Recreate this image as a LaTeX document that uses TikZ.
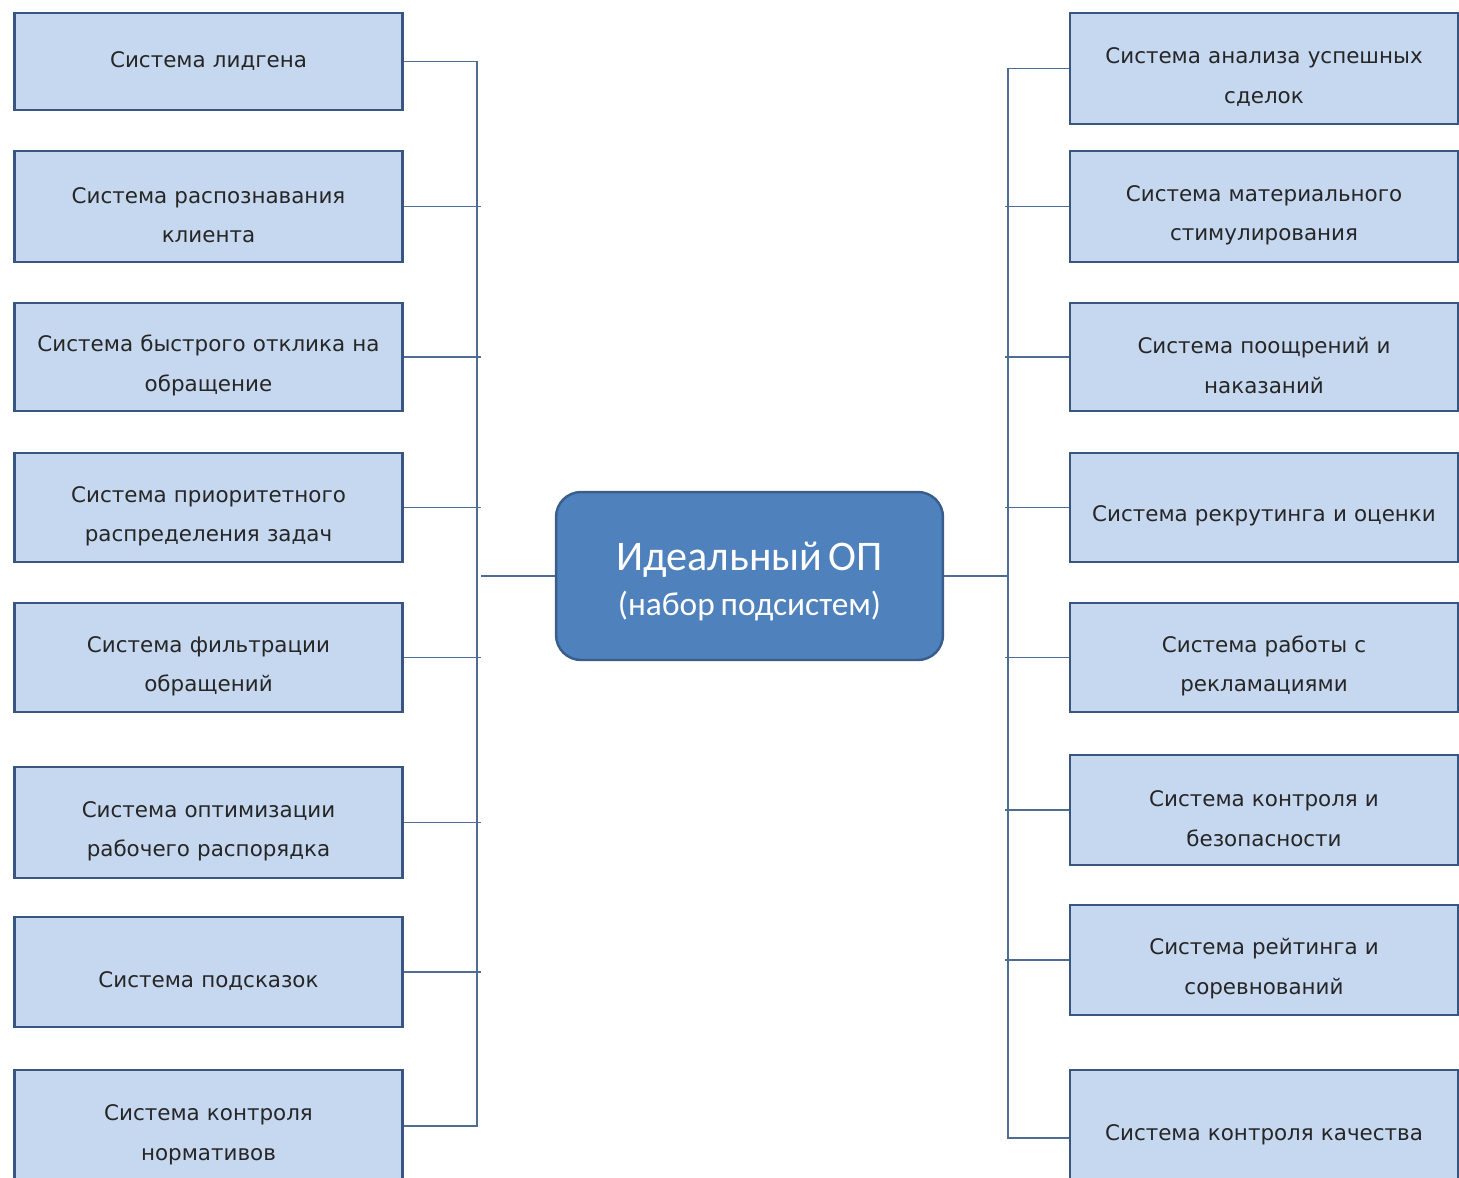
\documentclass[tikz,border=0pt]{standalone}
\usepackage{fontspec}
\setmainfont{DejaVu Sans}
\newfontfamily\opfont{Carlito}
\usetikzlibrary{positioning}
\definecolor{boxfill}{RGB}{198,216,240}
\definecolor{boxline}{RGB}{56,86,128}
\definecolor{opfill}{RGB}{79,129,189}
\definecolor{opline}{RGB}{58,94,140}
\definecolor{link}{RGB}{78,108,148}
\definecolor{boxtext}{RGB}{38,38,38}

\begin{document}
\begin{tikzpicture}[
  x=0.02cm,y=-0.02cm,
  subbase/.style={rectangle,draw=boxline,line width=1.6pt,fill=boxfill,text=boxtext,minimum width=7.76cm,text width=7.3cm,align=center,font=\fontsize{12.2}{22.6}\selectfont},
  sub/.style={subbase,execute at begin node={\rule{0pt}{19pt}}},
  op/.style={rectangle,draw=opline,line width=1.4pt,fill=opfill,text=white,minimum width=7.74cm,minimum height=3.36cm,text width=7cm,align=center,rounded corners=0.5cm,font=\opfont,execute at begin node={\rule{0pt}{22.5pt}}},
  link/.style={draw=link,line width=1pt}
]
\useasboundingbox[fill=white] (0,0) rectangle (1459,1177);
% left column
\node[subbase,minimum height=1.94cm] (l1) at (208.5,61.5) {Система лидгена};
\node[sub,minimum height=2.22cm] (l2) at (208.5,206.5) {Система распознавания\\клиента};
\node[sub,minimum height=2.16cm] (l3) at (208.5,357) {Система быстрого отклика на\\обращение};
\node[sub,minimum height=2.18cm] (l4) at (208.5,507.5) {Система приоритетного\\распределения задач};
\node[sub,minimum height=2.18cm] (l5) at (208.5,657.5) {Система фильтрации\\обращений};
\node[sub,minimum height=2.22cm] (l6) at (208.5,822.5) {Система оптимизации\\рабочего распорядка};
\node[sub,minimum height=2.2cm] (l7) at (208.5,972) {Система подсказок};
\node[sub,minimum height=2.24cm] (l8) at (208.5,1126) {Система контроля\\нормативов};
% right column
\node[sub,minimum height=2.22cm] (r1) at (1264,68.5) {Система анализа успешных\\сделок};
\node[sub,minimum height=2.22cm] (r2) at (1264,206.5) {Система материального\\стимулирования};
\node[sub,minimum height=2.16cm] (r3) at (1264,357) {Система поощрений и\\наказаний};
\node[sub,minimum height=2.18cm] (r4) at (1264,507.5) {Система рекрутинга и оценки};
\node[sub,minimum height=2.18cm] (r5) at (1264,657.5) {Система работы с\\рекламациями};
\node[sub,minimum height=2.2cm] (r6) at (1264,810) {Система контроля и\\безопасности};
\node[sub,minimum height=2.2cm] (r7) at (1264,960) {Система рейтинга и\\соревнований};
\node[sub,minimum height=2.24cm] (r8) at (1264,1126) {Система контроля качества};
% centre
\node[op] (op) at (749.5,576) {\fontsize{24}{28}\selectfont Идеальный ОП\\[7pt]\fontsize{19}{22}\selectfont (набор подсистем)};
% trunks
\coordinate (ltrunk) at (477,0);
\coordinate (lstub) at (481,0);
\coordinate (rtrunk) at (1008,0);
\coordinate (rstub) at (1005,0);
\coordinate (r8in) at ([yshift=-0.24cm]r8.west);
\draw[link] (l1.east) -- (l1.east -| ltrunk) |- (l8.east);
\draw[link] (r1.west) -- (r1.west -| rtrunk) |- (r8in);
\draw[link] (l2.east) -- (l2.east -| lstub);
\draw[link] (l3.east) -- (l3.east -| lstub);
\draw[link] (l4.east) -- (l4.east -| lstub);
\draw[link] (l5.east) -- (l5.east -| lstub);
\draw[link] (l6.east) -- (l6.east -| lstub);
\draw[link] (l7.east) -- (l7.east -| lstub);
\draw[link] (r2.west) -- (r2.west -| rstub);
\draw[link] (r3.west) -- (r3.west -| rstub);
\draw[link] (r4.west) -- (r4.west -| rstub);
\draw[link] (r5.west) -- (r5.west -| rstub);
\draw[link] (r6.west) -- (r6.west -| rstub);
\draw[link] (r7.west) -- (r7.west -| rstub);
\draw[link] (op.west) -- (op.west -| lstub);
\draw[link] (op.east) -- (op.east -| rtrunk);
\end{tikzpicture}
\end{document}
